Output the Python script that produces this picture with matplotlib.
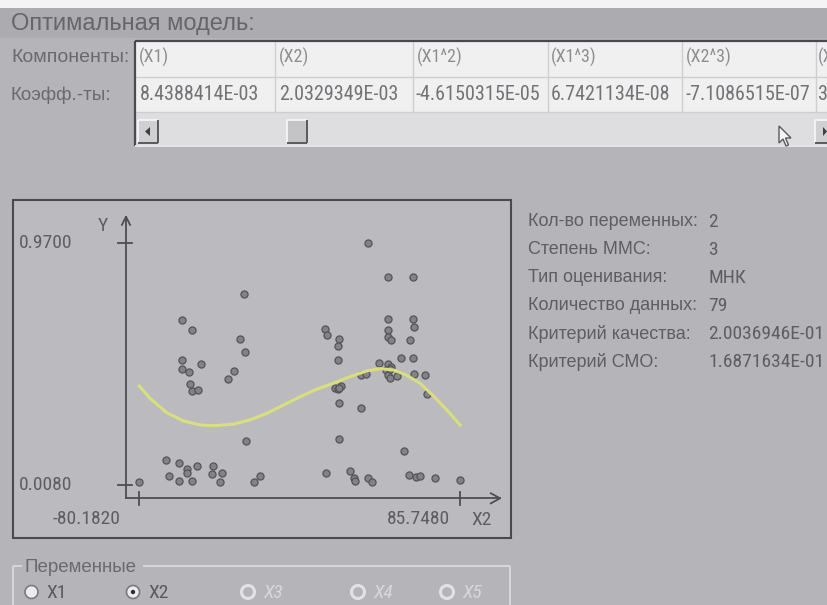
import matplotlib
matplotlib.use('Agg')
import matplotlib.pyplot as plt
from matplotlib.patches import Rectangle, Circle, Polygon
from matplotlib.transforms import blended_transform_factory

# ---------------- data ----------------
components = ['(X1)', '(X2)', '(X1^2)', '(X1^3)', '(X2^3)', '(X']
coefficients = ['8.4388414E-03', '2.0329349E-03', '-4.6150315E-05',
                '6.7421134E-08', '-7.1086515E-07', '3']
info_labels = ['Кол-во переменных:', 'Степень ММС:', 'Тип оценивания:',
               'Количество данных:', 'Критерий качества:', 'Критерий СМО:']
info_values = ['2', '3', 'МНК', '79', '2.0036946E-01', '1.6871634E-01']
variables = ['X1', 'X2', 'X3', 'X4', 'X5']
selected_var = 'X2'
x_range = [-80.182, 85.748]
y_range = [0.008, 0.97]
x_tick_labels = ['-80.1820', '85.7480']
y_tick_labels = ['0.0080', '0.9700']
x_axis_name = 'X2'
y_axis_name = 'Y'

points_x = [-26.01, -58.24, -53.07, -28.08, -25.34, -58.24, -48.10, -57.93, -54.62, -31.03,
            -34.44, -53.95, -53.07, -49.65, -24.98, -66.21, -59.49, -55.35, -50.17, -42.20,
            -64.66, -55.35, -42.41, -37.39, -59.49, -52.91, -38.58, -80.18, -20.68, -17.89,
            37.99, 48.65, 61.28, 48.65, 61.28, 62.11, 16.06, 16.93, 48.65, 23.30,
            48.65, 50.05, 60.04, 22.63, 22.63, 55.07, 61.43, 43.84, 48.65, 50.05,
            47.46, 34.53, 36.96, 48.65, 49.69, 52.99, 61.95, 67.80, 20.92, 24.18,
            22.47, 23.30, 68.52, 34.68, 22.99, 56.77, 16.26, 29.00, 31.06, 31.42,
            38.30, 40.06, 59.52, 63.14, 65.21, 72.97, 85.75, 49.40, 22.90]
points_y = [0.769, 0.665, 0.625, 0.588, 0.536, 0.506, 0.490, 0.470, 0.459, 0.462,
            0.429, 0.410, 0.381, 0.387, 0.183, 0.106, 0.094, 0.070, 0.082, 0.084,
            0.045, 0.055, 0.053, 0.055, 0.024, 0.024, 0.020, 0.021, 0.021, 0.044,
            0.970, 0.836, 0.836, 0.670, 0.670, 0.636, 0.629, 0.606, 0.626, 0.590,
            0.598, 0.585, 0.586, 0.560, 0.504, 0.513, 0.513, 0.495, 0.490, 0.479,
            0.466, 0.446, 0.451, 0.446, 0.434, 0.441, 0.449, 0.446, 0.393, 0.403,
            0.389, 0.336, 0.371, 0.313, 0.191, 0.143, 0.056, 0.064, 0.037, 0.024,
            0.037, 0.021, 0.047, 0.039, 0.043, 0.037, 0.027, 0.470, 0.395]

curve_x = [-80.18, -74.65, -66.00, -57.42, -48.78, -41.89, -31.55, -22.91, -14.27, -5.67, 2.97,
           11.60, 20.19, 28.84, 37.48, 44.36, 51.24, 58.17, 65.05, 71.93, 78.87, 85.75]
curve_y = [0.402, 0.353, 0.296, 0.263, 0.247, 0.244, 0.250, 0.267, 0.293, 0.326, 0.359,
           0.389, 0.413, 0.439, 0.462, 0.471, 0.466, 0.445, 0.413, 0.363, 0.307, 0.247]

# ---------------- styles ----------------
W, H = 827, 605
BG = '#b5b5b9'
NARROW = ['Roboto Condensed', 'Liberation Sans', 'DejaVu Sans']
SANS = ['Liberation Sans', 'DejaVu Sans']
DARK = '#4e4e52'
TXT = '#5e5e62'

fig = plt.figure(figsize=(W / 100, H / 100), dpi=100)
fig.patch.set_facecolor(BG)

ui = fig.add_axes([0, 0, 1, 1])
ui.set_xlim(0, W)
ui.set_ylim(H, 0)
ui.axis('off')
ui.set_zorder(0)


def rect(x0, y0, x1, y1, fc, ec='none', lw=0, z=1):
    ui.add_patch(Rectangle((x0, y0), x1 - x0, y1 - y0, facecolor=fc,
                           edgecolor=ec, linewidth=lw, zorder=z))


def line(xs, ys, c, lw=1.0, z=3):
    ui.plot(xs, ys, color=c, lw=lw, zorder=z, solid_capstyle='butt')


def txt(x, y, s, size, color, fam=SANS, ha='left', z=5, **kw):
    ui.text(x, y, s, fontsize=size, color=color, family=fam, ha=ha,
            va='center', zorder=z, **kw)


# top white band and title strip
rect(0, 0, W, 8, '#f4f4f4')
rect(0, 8, W, 38, '#acacb0')
txt(11, 24, 'Оптимальная модель:', 17, '#66666a')

# ---------------- table ----------------
T_L, T_T, T_B = 135, 40.5, 146
ROW1, ROW2 = 76.5, 112
col_edges = [135, 275, 413, 548, 682, 816]
rect(T_L, T_T, W + 5, T_B, '#f0f0f0', z=1)
rect(T_L + 1, ROW2 + 1, W + 5, T_B - 1, '#dedee0', z=1.5)
for y in (ROW1, ROW2):
    line([T_L, W], [y, y], '#cfcfd2', 1.0)
for x in col_edges[1:]:
    line([x, x], [T_T, ROW2], '#cfcfd2', 1.0)
line([T_L, W], [T_T, T_T], '#4a4a4e', 1.6)
line([T_L, T_L], [T_T, T_B], '#4a4a4e', 1.6)
line([T_L, W], [T_B, T_B], '#e6e6e8', 1.4)

for x, s in zip([139, 279, 417, 551, 686, 818], components):
    txt(x, 57, s, 13, '#8e8e92', NARROW)
for x, s in zip([140, 279, 416, 551, 685, 818], coefficients):
    txt(x, 94, s, 14.5, '#737377', NARROW)

txt(11, 57, 'Компоненты:', 14, '#6a6a6e')
txt(11, 95, 'Коэфф.-ты:', 13.5, '#6a6a6e')


def button(x0, y0, x1, y1, fc='#d0d0d2'):
    rect(x0, y0, x1, y1, fc, z=2)
    line([x0, x1], [y0, y0], '#f8f8f8', 1.2, z=3)
    line([x0, x0], [y0, y1], '#f8f8f8', 1.2, z=3)
    line([x0, x1], [y1, y1], '#5a5a5e', 1.4, z=3)
    line([x1, x1], [y0, y1], '#5a5a5e', 1.4, z=3)


button(138, 120, 158, 143)
ui.add_patch(Polygon([[145, 131.5], [150, 127], [150, 136]], closed=True,
                     facecolor='#404044', edgecolor='none', zorder=4))
button(287, 120, 307, 143, '#c4c4c6')
button(815, 120, 835, 143)
ui.add_patch(Polygon([[823, 127], [827, 131.5], [823, 136]], closed=True,
                     facecolor='#404044', edgecolor='none', zorder=4))

# mouse cursor
cx, cy = 779, 126
cur = [[0, 0], [0, 17], [4, 13], [7, 20], [9.5, 19], [6.5, 12], [12, 12]]
ui.add_patch(Polygon([[cx + a, cy + b] for a, b in cur], closed=True,
                     facecolor='#f4f4f4', edgecolor='#5a5a5e', lw=1.0, zorder=6))

# ---------------- plot panel ----------------
rect(13, 200, 511, 538, '#bbbbbf', ec='#4a4a4e', lw=1.5, z=1)

# info block
for i, (lab, val) in enumerate(zip(info_labels, info_values)):
    y = 222 + i * 28
    txt(528, y, lab, 13, TXT)
    txt(708, y, val, 14, TXT, NARROW)

# group box "Переменные"
GB_C = '#dadadc'
line([13, 13], [566, H + 2], GB_C, 1.3)
line([510, 510], [566, H + 2], GB_C, 1.3)
line([13, 22], [566, 566], GB_C, 1.3)
line([143, 510], [566, 566], GB_C, 1.3)
txt(25, 568, 'Переменные', 13.5, '#6a6a6e')
radio_x = [31.5, 133, 248, 358, 447]
for x, v in zip(radio_x, variables):
    enabled = v in ('X1', 'X2')
    if enabled:
        ui.add_patch(Circle((x, 592), 6.5, facecolor='#ececee', edgecolor='#7a7a7e',
                            lw=1.2, zorder=4))
        if v == selected_var:
            ui.add_patch(Circle((x, 592), 2.2, facecolor='#303034', edgecolor='none', zorder=5))
        txt(x + 15, 593, v, 14, '#5a5a5e', NARROW)
    else:
        ui.add_patch(Circle((x, 592), 6.5, facecolor='none', edgecolor='#e2e2e4',
                            lw=2.2, zorder=4))
        txt(x + 15, 593, v, 14, '#d8d8da', NARROW, style='italic')

# ---------------- scatter axes ----------------
L, R, T, B = 126.0, 500.0, 216.7, 498.3     # axis box in pixels
PX_X0, PX_X1 = 139.3, 460.0                 # pixel positions of x tick values
PY_Y0, PY_Y1 = 485.0, 243.3                 # pixel positions of y tick values
sx = (x_range[1] - x_range[0]) / (PX_X1 - PX_X0)
sy = (y_range[1] - y_range[0]) / (PY_Y0 - PY_Y1)
xlim = (x_range[0] - (PX_X0 - L) * sx, x_range[1] + (R - PX_X1) * sx)
ylim = (y_range[0] - (B - PY_Y0) * sy, y_range[1] + (PY_Y1 - T) * sy)

ax = fig.add_axes([L / W, 1 - B / H, (R - L) / W, (B - T) / H])
ax.set_zorder(2)
ax.patch.set_alpha(0)
ax.set_xlim(*xlim)
ax.set_ylim(*ylim)
ax.axis('off')

ax.scatter(points_x, points_y, s=26, facecolor='#838387', edgecolor='#545458',
           linewidths=0.9, zorder=3, clip_on=False)
ax.plot(curve_x, curve_y, color='#d8df7c', lw=2.2, zorder=4, solid_joinstyle='round')

ax.plot([0, 0], [0, 1], color=DARK, lw=1.3, transform=ax.transAxes, clip_on=False)
ax.plot([0, 1], [0, 0], color=DARK, lw=1.3, transform=ax.transAxes, clip_on=False)
line([L - 4.5, L, L + 4.5], [T + 9, T, T + 9], DARK, 1.3, z=6)
line([R - 10, R, R - 10], [B - 5.5, B, B + 5.5], DARK, 1.3, z=6)

ty = blended_transform_factory(ui.transData, ax.transData)
tx = blended_transform_factory(ax.transData, ui.transData)
for v, s in zip(y_range, y_tick_labels):
    ax.plot([118, 132], [v, v], color=DARK, lw=1.3, transform=ty, clip_on=False)
    ax.text(72, v, s, transform=ty, ha='right', va='center', fontsize=14,
            color=TXT, family=NARROW)
for v, s in zip(x_range, x_tick_labels):
    ax.plot([v, v], [491.5, 505], color=DARK, lw=1.3, transform=tx, clip_on=False)
for px, s in zip([PX_X0 - 19, PX_X1 - 10], x_tick_labels):
    txt(px, 519, s, 14, TXT, NARROW, ha='right')
txt(103, 226, y_axis_name, 14, TXT, NARROW, ha='center')
txt(482, 520, x_axis_name, 14, TXT, NARROW, ha='center')

fig.savefig('out.png', dpi=100, facecolor=fig.get_facecolor())
